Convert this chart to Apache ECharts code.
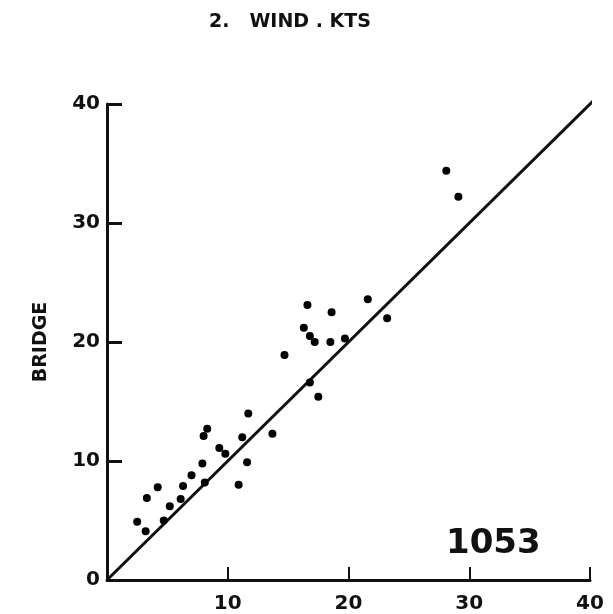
<!DOCTYPE html>
<html>
<head>
<meta charset="utf-8">
<script src="https://cdn.jsdelivr.net/npm/echarts@6/dist/echarts.min.js"></script>
<style>html,body{margin:0;padding:0;background:#fff}#c{width:613px;height:614px}</style>
</head>
<body>
<div id="c"></div>
<script>
// Wind speed (kts): observed x vs bridge y
const windX = [2.5,3.2,3.3,4.2,4.7,5.2,6.1,6.3,7.0,7.9,8.1,8.0,8.3,9.3,9.8,10.9,11.2,11.6,11.7,13.7,
  14.7,16.6,16.3,16.8,17.2,16.8,17.5,18.6,18.5,19.7,21.6,23.2,28.1,29.1];
const bridgeY = [4.9,4.1,6.9,7.8,5.0,6.2,6.8,7.9,8.8,9.8,8.2,12.1,12.7,11.1,10.6,8.0,12.0,9.9,14.0,12.3,
  18.9,23.1,21.2,20.5,20.0,16.6,15.4,22.5,20.0,20.3,23.6,22.0,34.4,32.2];
const lineX = [0, 40.7];
const lineY = [0, 40.7];
const tickLabels = ['0','10','20','30','40'];
const titleText = '2.   WIND . KTS';
const yName = 'BRIDGE';
const caseNo = '1053';

const pts = windX.map((x,i)=>[x, bridgeY[i]]);
const font = 'DejaVu Sans';
const chart = echarts.init(document.getElementById('c'));
chart.setOption({
  animation:false,
  backgroundColor:'#fff',
  title:{text:titleText,left:285,top:8,textAlign:'center',textStyle:{fontFamily:font,fontSize:19,fontWeight:'bold',color:'#111'}},
  grid:{left:107,right:23,top:104,bottom:33},
  xAxis:{type:'value',min:0,max:40,interval:10,showMinLabel:false,
    axisLine:{onZero:false,lineStyle:{color:'#111',width:3}},
    axisTick:{inside:true,length:13,lineStyle:{color:'#111',width:2}},
    splitLine:{show:false},
    axisLabel:{margin:14,fontFamily:font,fontSize:20,fontWeight:'bold',color:'#111',
      formatter:(v)=>v===0?'':tickLabels[Math.round(v/10)]}},
  yAxis:{type:'value',min:0,max:40,interval:10,
    name:yName,nameLocation:'middle',nameGap:56,nameRotate:90,
    nameTextStyle:{fontFamily:font,fontSize:19,fontWeight:'bold',color:'#111'},
    axisLine:{onZero:false,lineStyle:{color:'#111',width:3}},
    axisTick:{inside:true,length:15,lineStyle:{color:'#111',width:3}},
    splitLine:{show:false},
    axisLabel:{margin:7,fontFamily:font,fontSize:20,fontWeight:'bold',color:'#111',
      formatter:(v)=>tickLabels[Math.round(v/10)]}},
  series:[
    {type:'line',data:lineX.map((x,i)=>[x,lineY[i]]),symbol:'none',clip:false,lineStyle:{color:'#111',width:3},z:2},
    {type:'scatter',data:pts,symbolSize:8,itemStyle:{color:'#000',opacity:1},z:3}
  ],
  graphic:[{type:'text',left:446,top:527,style:{text:caseNo,font:'bold 34px "DejaVu Sans"',fill:'#111'}}]
});
</script>
</body>
</html>
